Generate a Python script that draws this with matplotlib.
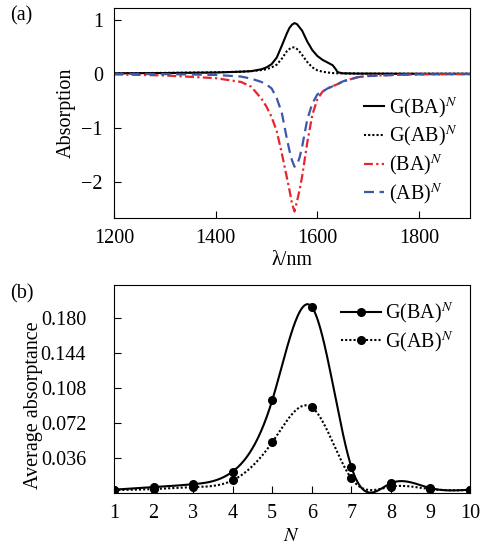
import numpy as np
import matplotlib
matplotlib.use('Agg')
import matplotlib.pyplot as plt
from matplotlib.lines import Line2D

# panel (a): absorption spectra
wavelength = [1200, 1300, 1400, 1450, 1470, 1490, 1500, 1510, 1520, 1530, 1540, 1545,
              1550, 1555, 1560, 1565, 1570, 1580, 1590, 1600, 1610, 1620, 1630, 1635,
              1640, 1650, 1680, 1700, 1750, 1800, 1900]
g_ba = [0.01, 0.015, 0.025, 0.04, 0.05, 0.085, 0.12, 0.18, 0.3, 0.52, 0.75, 0.85,
        0.91, 0.94, 0.92, 0.86, 0.8, 0.6, 0.44, 0.33, 0.26, 0.21, 0.16, 0.1,
        0.03, 0.01, 0.005, 0.005, 0.003, 0.002, 0.002]
g_ab = [0.012, 0.018, 0.028, 0.04, 0.05, 0.07, 0.085, 0.12, 0.17, 0.28, 0.42, 0.46,
        0.49, 0.49, 0.46, 0.41, 0.35, 0.22, 0.12, 0.065, 0.04, 0.025, 0.015, 0.012,
        0.01, 0.008, 0.005, 0.004, 0.003, 0.002, 0.002]
ba = [-0.01, -0.03, -0.08, -0.15, -0.24, -0.46, -0.61, -0.8, -1.06, -1.47, -1.92, -2.15,
      -2.4, -2.55, -2.36, -2.15, -1.9, -1.28, -0.76, -0.47, -0.33, -0.27, -0.23, -0.21,
      -0.19, -0.14, -0.06, -0.04, -0.02, -0.01, -0.005]
ab = [0.0, -0.005, -0.02, -0.05, -0.09, -0.15, -0.2, -0.27, -0.45, -0.72, -1.2, -1.42,
      -1.6, -1.72, -1.68, -1.55, -1.35, -0.85, -0.55, -0.38, -0.33, -0.27, -0.23, -0.21,
      -0.19, -0.14, -0.06, -0.04, -0.02, -0.01, -0.005]

# panel (b): average absorptance vs period number
periods = [1, 2, 3, 4, 5, 6, 7, 8, 9, 10]
avg_g_ba = [0.0034, 0.006, 0.009, 0.022, 0.095, 0.191, 0.027, 0.010, 0.005, 0.0034]
avg_g_ab = [0.003, 0.004, 0.006, 0.013, 0.052, 0.088, 0.015, 0.0065, 0.004, 0.003]


def natural_spline(x, y, n=500):
    # smooth curve through the markers, like the original plot
    x, y = np.asarray(x, float), np.asarray(y, float)
    h = np.diff(x)
    m = len(x)
    A = np.zeros((m, m))
    r = np.zeros(m)
    A[0, 0] = A[-1, -1] = 1
    for i in range(1, m - 1):
        A[i, i - 1] = h[i - 1]
        A[i, i] = 2 * (h[i - 1] + h[i])
        A[i, i + 1] = h[i]
        r[i] = 3 * ((y[i + 1] - y[i]) / h[i] - (y[i] - y[i - 1]) / h[i - 1])
    c = np.linalg.solve(A, r)
    b = (y[1:] - y[:-1]) / h - h * (2 * c[:-1] + c[1:]) / 3
    d = (c[1:] - c[:-1]) / (3 * h)
    xs = np.linspace(x[0], x[-1], n)
    idx = np.clip(np.searchsorted(x, xs) - 1, 0, m - 2)
    dx = xs - x[idx]
    return xs, y[idx] + b[idx] * dx + c[idx] * dx ** 2 + d[idx] * dx ** 3


plt.rcParams['font.family'] = ['Liberation Serif', 'DejaVu Serif']
plt.rcParams['mathtext.fontset'] = 'stix'
plt.rcParams['font.size'] = 14.5
plt.rcParams['xtick.direction'] = 'in'
plt.rcParams['ytick.direction'] = 'in'
plt.rcParams['xtick.major.size'] = 5
plt.rcParams['ytick.major.size'] = 5

fig = plt.figure(figsize=(4.8, 5.51), dpi=100)
ax1 = fig.add_axes([0.2375, 0.6044, 0.7415, 0.3811])
ax2 = fig.add_axes([0.2375, 0.1053, 0.7415, 0.3775])

# (a)
ax1.plot(wavelength, g_ba, color='black', lw=1.5, label='G(BA)$^{N}$')
ax1.plot(wavelength, g_ab, color='black', lw=1.5, ls=(0, (1, 1)), label='G(AB)$^{N}$')
ax1.plot(wavelength, ba, color='#e8252d', lw=1.6, ls=(0, (4, 1.5, 1, 1.5)), label='(BA)$^{N}$')
ax1.plot(wavelength, ab, color='#3d58ab', lw=1.6, ls=(0, (4.5, 2.5)), label='(AB)$^{N}$')
ax1.set_xlim(1200, 1900)
ax1.set_ylim(-2.67, 1.22)
ax1.set_xticks([1200, 1400, 1600, 1800])
ax1.set_yticks([-2, -1, 0, 1])
ax1.set_yticklabels(['\u22122', '\u22121', '0', '1'])
ax1.tick_params(axis='x', pad=8)
ax1.tick_params(axis='y', pad=8)
ax1.set_xlabel('\u03bb/nm', labelpad=2)
ax1.set_ylabel('Absorption', labelpad=4)
ax1.legend(loc='lower right', bbox_to_anchor=(1.0, 0.0), frameon=False,
           handlelength=1.0, handletextpad=0.25, labelspacing=0.22, borderaxespad=0.2)
fig.text(0.022, 0.972, '(a)', ha='left', va='center')

# (b)
xs, ys = natural_spline(periods, avg_g_ba)
ax2.plot(xs, ys, color='black', lw=1.5)
xs, ys = natural_spline(periods, avg_g_ab)
ax2.plot(xs, ys, color='black', lw=1.5, ls=(0, (1, 1)))
ax2.plot(periods, avg_g_ba, 'o', color='black', ms=5.5)
ax2.plot(periods, avg_g_ab, 'o', color='black', ms=5.5)
ax2.set_xlim(1, 10)
ax2.set_ylim(0, 0.2135)
ax2.set_xticks(periods)
ax2.set_yticks([0.036, 0.072, 0.108, 0.144, 0.180])
ax2.set_yticklabels(['0.036', '0.072', '0.108', '0.144', '0.180'])
ax2.tick_params(axis='x', pad=8)
ax2.tick_params(axis='y', pad=20)
ax2.set_xlabel('$N$', labelpad=3)
ax2.set_ylabel('Average absorptance')
ax2.yaxis.set_label_coords(-0.2, 0.42)
handles = [Line2D([], [], color='black', lw=1.5, marker='o', ms=5.5),
           Line2D([], [], color='black', lw=1.5, ls=(0, (1, 1)), marker='o', ms=5.5)]
ax2.legend(handles, ['G(BA)$^{N}$', 'G(AB)$^{N}$'], loc='upper right', frameon=False,
           numpoints=1, handlelength=2.0, handletextpad=0.2, labelspacing=0.2,
           borderaxespad=0.4)
fig.text(0.022, 0.466, '(b)', ha='left', va='center')

fig.savefig('out.png', dpi=100)
